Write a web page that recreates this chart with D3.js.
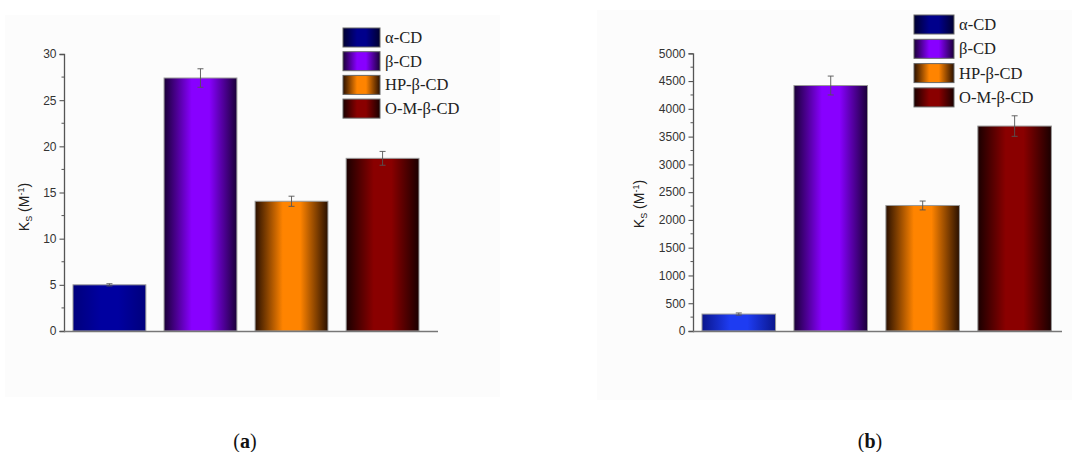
<!DOCTYPE html>
<html>
<head>
<meta charset="utf-8">
<script src="https://cdn.jsdelivr.net/npm/d3@7"></script>
<style>
  body { margin: 0; background: #fff; }
  svg { display: block; }
  .tick text { font-family: "Liberation Sans", Arial, sans-serif; font-size: 12px; fill: #333; }
  .legend text { font-family: "Liberation Serif", "Times New Roman", serif; font-size: 16.5px; fill: #222; }
  .caption { font-family: "Liberation Serif", "DejaVu Serif", serif; font-size: 20px; fill: #111; }
  .ylabel { font-family: "Liberation Sans", Arial, sans-serif; font-size: 14px; fill: #222; }
</style>
</head>
<body>
<svg id="chart" width="1072" height="452"></svg>
<script>
  var categories = ['α-CD', 'β-CD', 'HP-β-CD', 'O-M-β-CD'];

  // panel (a)
  var ksA = [5.0, 27.4, 14.05, 18.7];
  var errA = [0.12, 1.0, 0.55, 0.75];
  var ticksA = [0, 5, 10, 15, 20, 25, 30];

  // panel (b)
  var ksB = [305, 4420, 2260, 3690];
  var errB = [20, 170, 80, 185];
  var ticksB = [0, 500, 1000, 1500, 2000, 2500, 3000, 3500, 4000, 4500, 5000];

  // bright centre / dark edge per bar
  var centerA = ['#0000a0', '#8800ff', '#ff8400', '#8a0000'];
  var edgeA = ['#00007c', '#1a0038', '#2a1000', '#1a0000'];
  var centerB = ['#1e3cf2', '#8800ff', '#ff8400', '#8a0000'];
  var edgeB = ['#0a168c', '#1a0038', '#2a1000', '#1a0000'];
  var legendCenter = ['#00008c', '#8800ff', '#ff8400', '#8a0000'];
  var legendEdge = ['#000030', '#1a0038', '#2a1000', '#1a0000'];

  var svg = d3.select('#chart');
  var defs = svg.append('defs');

  function gradient(id, center, edge) {
    var g = defs.append('linearGradient')
      .attr('id', id)
      .attr('x1', '0').attr('x2', '1').attr('y1', '0').attr('y2', '0');
    g.append('stop').attr('offset', '0').attr('stop-color', edge);
    g.append('stop').attr('offset', '0.38').attr('stop-color', center);
    g.append('stop').attr('offset', '0.62').attr('stop-color', center);
    g.append('stop').attr('offset', '1').attr('stop-color', edge);
  }

  // faint panel backgrounds
  svg.append('rect').attr('x', 5).attr('y', 15).attr('width', 495).attr('height', 382).attr('fill', '#fcfcfc');
  svg.append('rect').attr('x', 597).attr('y', 10).attr('width', 475).attr('height', 390).attr('fill', '#fcfcfc');

  function drawPanel(opt) {
    var g = svg.append('g');

    var x = d3.scaleBand()
      .domain(categories)
      .range(opt.xRange)
      .paddingInner(0.2)
      .paddingOuter(0.1);

    var y = d3.scaleLinear()
      .domain([0, opt.max])
      .range([331, opt.yTop]);

    categories.forEach(function(c, i) {
      gradient(opt.id + 'bar' + i, opt.center[i], opt.edge[i]);
      gradient(opt.id + 'leg' + i, legendCenter[i], legendEdge[i]);
    });

    // minor ticks
    var minor = d3.range(0, opt.max, opt.minorStep).filter(function(v) { return opt.ticks.indexOf(v) < 0; });
    g.append('g')
      .attr('transform', 'translate(' + opt.axisX + ',0)')
      .selectAll('line')
      .data(minor)
      .enter().append('line')
      .attr('x1', -2.5).attr('x2', 0)
      .attr('y1', function(d) { return y(d); })
      .attr('y2', function(d) { return y(d); })
      .attr('stroke', '#555')
      .attr('stroke-width', 1);

    var yAxis = g.append('g')
      .attr('transform', 'translate(' + opt.axisX + ',0)')
      .call(d3.axisLeft(y).tickValues(opt.ticks).tickSize(4.5).tickPadding(3).tickFormat(d3.format('d')));
    yAxis.select('.domain').attr('stroke', '#555').attr('stroke-width', 1.3);
    yAxis.selectAll('.tick line').attr('stroke', '#555').attr('stroke-width', 1.1);

    // bars
    g.selectAll('rect.bar')
      .data(opt.values)
      .enter().append('rect')
      .attr('class', 'bar')
      .attr('x', function(d, i) { return x(categories[i]); })
      .attr('y', function(d) { return y(d); })
      .attr('width', x.bandwidth())
      .attr('height', function(d) { return 331 - y(d); })
      .attr('fill', function(d, i) { return 'url(#' + opt.id + 'bar' + i + ')'; })
      .attr('stroke', '#999')
      .attr('stroke-width', 1);

    // error bars
    var eb = g.selectAll('g.err')
      .data(opt.values)
      .enter().append('g')
      .attr('class', 'err')
      .attr('stroke', '#555')
      .attr('stroke-width', 0.9);
    eb.append('line')
      .attr('x1', function(d, i) { return x(categories[i]) + x.bandwidth() / 2; })
      .attr('x2', function(d, i) { return x(categories[i]) + x.bandwidth() / 2; })
      .attr('y1', function(d, i) { return y(d + opt.errors[i]); })
      .attr('y2', function(d, i) { return y(d - opt.errors[i]); });
    [1, -1].forEach(function(sign) {
      eb.append('line')
        .attr('x1', function(d, i) { return x(categories[i]) + x.bandwidth() / 2 - 3; })
        .attr('x2', function(d, i) { return x(categories[i]) + x.bandwidth() / 2 + 3; })
        .attr('y1', function(d, i) { return y(d + sign * opt.errors[i]); })
        .attr('y2', function(d, i) { return y(d + sign * opt.errors[i]); });
    });

    // x axis line
    g.append('line')
      .attr('x1', opt.axisX).attr('x2', opt.xEnd)
      .attr('y1', 331.5).attr('y2', 331.5)
      .attr('stroke', '#777').attr('stroke-width', 1.3);

    // y label
    var label = g.append('text')
      .attr('class', 'ylabel')
      .attr('transform', 'translate(' + opt.labelX + ',' + opt.labelY + ') rotate(-90)')
      .attr('text-anchor', 'middle');
    label.append('tspan').text('K');
    label.append('tspan').attr('font-size', '9px').attr('dy', 3).text('S');
    label.append('tspan').attr('dy', -3).text(' (M');
    label.append('tspan').attr('font-size', '9px').attr('dy', -5).text('-1');
    label.append('tspan').attr('dy', 5).text(')');

    // legend
    var legend = g.append('g').attr('class', 'legend');
    var rows = legend.selectAll('g')
      .data(categories)
      .enter().append('g')
      .attr('transform', function(d, i) { return 'translate(' + opt.legendX + ',' + (opt.legendY + i * opt.legendStep) + ')'; });
    rows.append('rect')
      .attr('width', opt.legendW)
      .attr('height', 19)
      .attr('fill', function(d, i) { return 'url(#' + opt.id + 'leg' + i + ')'; })
      .attr('stroke', '#666')
      .attr('stroke-width', 1);
    rows.append('text')
      .attr('x', opt.legendW + 5)
      .attr('y', 15)
      .text(function(d) { return d; });

    // caption
    var cap = svg.append('text')
      .attr('class', 'caption')
      .attr('x', opt.captionX)
      .attr('y', 448)
      .attr('text-anchor', 'middle');
    cap.append('tspan').text('(');
    cap.append('tspan').attr('font-weight', 'bold').text(opt.letter);
    cap.append('tspan').text(')');
  }

  drawPanel({
    id: 'a', values: ksA, errors: errA, ticks: ticksA, max: 30, minorStep: 2.5,
    center: centerA, edge: edgeA,
    xRange: [63.9, 428.1], axisX: 64, xEnd: 438, yTop: 54,
    labelX: 29, labelY: 207,
    legendX: 343, legendY: 28, legendStep: 23.7, legendW: 37,
    captionX: 245, letter: 'a'
  });

  drawPanel({
    id: 'b', values: ksB, errors: errB, ticks: ticksB, max: 5000, minorStep: 250,
    center: centerB, edge: edgeB,
    xRange: [692.8, 1060.6], axisX: 693, xEnd: 1062, yTop: 53.3,
    labelX: 644, labelY: 204,
    legendX: 914, legendY: 15, legendStep: 24.3, legendW: 40,
    captionX: 870, letter: 'b'
  });
</script>
</body>
</html>
